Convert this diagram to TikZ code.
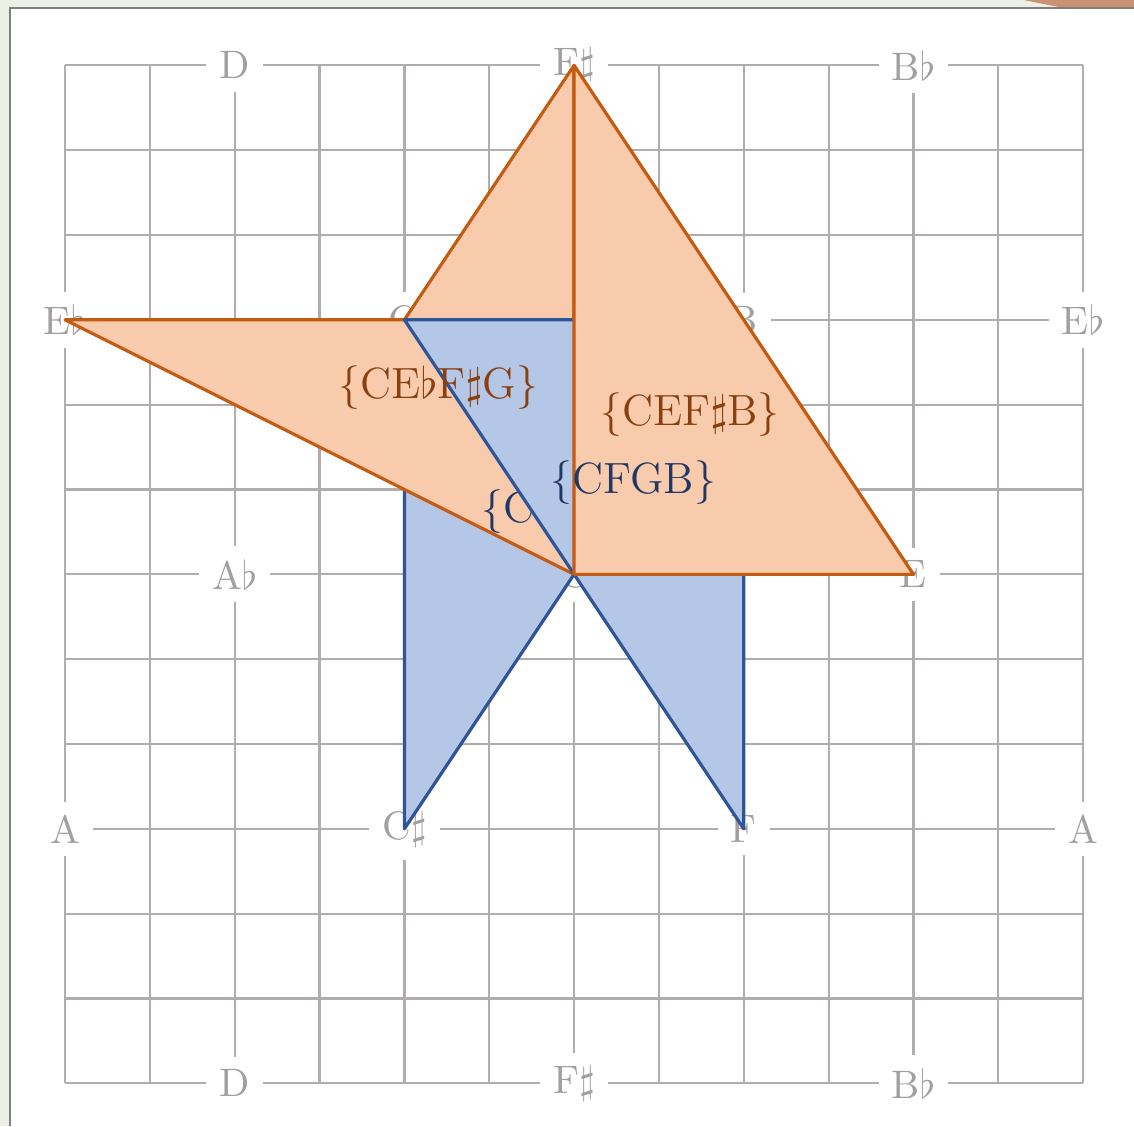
\documentclass[tikz,border=0pt]{standalone}
\usepackage[dvipsnames]{xcolor}
\definecolor{gridgray}{HTML}{B2ADAD}
\definecolor{notegray}{HTML}{A39F9F}
\definecolor{orange1}{HTML}{C55A11}
\definecolor{orange2}{HTML}{F8CBAD}
\definecolor{orangetxt}{HTML}{8A3F0E}
\definecolor{blue1}{HTML}{2F5597}
\definecolor{blue2}{HTML}{B4C7E7}
\definecolor{bluetxt}{HTML}{1F3864}
\definecolor{pagebg}{HTML}{EAF0E4}
\definecolor{framegray}{HTML}{7F7F7F}
\definecolor{patch}{HTML}{C99272}
\usepackage{tikz}
\usetikzlibrary{positioning, backgrounds, calc}

\begin{document}
\begin{tikzpicture}[x=0.75cm, y=0.75cm,
    gridline/.style={draw=gridgray, line width=0.55pt},
    note/.style={fill=white, text=notegray, inner sep=3.3pt},
    redshape/.style={fill=orange2, draw=orange1, line width=0.8pt, line join=round},
    blueshape/.style={fill=blue2, draw=blue1, line width=0.8pt, line join=round},
    redlabel/.style={text=orangetxt, font=\fontsize{11}{13}\selectfont},
    bluelabel/.style={text=bluetxt, font=\fontsize{11}{13}\selectfont}]

  % page and frame
  \useasboundingbox (-0.767,-0.507) rectangle (12.60,12.77);
  \fill[pagebg] (-0.767,-0.507) rectangle (12.60,12.77);
  \fill[white] (-0.649,-0.507) rectangle (12.60,12.677);
  \fill[patch] (11.3,12.77) -- (11.7,12.69) -- (12.60,12.69) -- (12.60,12.77) -- cycle;
  \draw[framegray, line width=0.6pt] (-0.649,-0.507) -- (-0.649,12.677) -- (12.60,12.677);

  \draw[gridline, step={(1,1)}] (0,0) grid (12,12);

  % lattice of notes
  \foreach \x/\y/\txt in {2/12/D, 6/12/F$\sharp$, 10/12/B$\flat$,
                          0/9/E$\flat$, 4/9/G, 8/9/B, 12/9/E$\flat$,
                          2/6/A$\flat$, 6/6/C, 10/6/E,
                          0/3/A, 4/3/C$\sharp$, 8/3/F, 12/3/A,
                          2/0/D, 6/0/F$\sharp$, 10/0/B$\flat$}
    \node[note] (n\x-\y) at (\x,\y) {\txt};

  \coordinate (C)  at (6,6);
  \coordinate (Cs) at (4,3);
  \coordinate (Eb) at (0,9);
  \coordinate (E)  at (10,6);
  \coordinate (F)  at (8,3);
  \coordinate (Fs) at (6,12);
  \coordinate (G)  at (4,9);
  \coordinate (B)  at (8,9);

  % chords
  \draw[blueshape] (C) -- (Cs) -- (G) -- (E) -- cycle;
  \draw[redshape] (C) -- (Eb) -- (G) -- (Fs) -- cycle;
  \node[bluelabel] (ccseg) at (6.0,6.74) {\{CC$\sharp$EG\}};
  \draw[blueshape] (C) -- (F) -- (B) -- (G) -- cycle;
  \node[redlabel] (cebfsg) at (4.40,8.20) {\{CE$\flat$F$\sharp$G\}};
  \draw[redshape] (C) -- (E) -- (B) -- (Fs) -- cycle;
  \node[bluelabel] (cfgb) at (6.70,7.08) {\{CFGB\}};
  \node[redlabel] (cefsb) at (7.37,7.88) {\{CEF$\sharp$B\}};
\end{tikzpicture}
\end{document}
